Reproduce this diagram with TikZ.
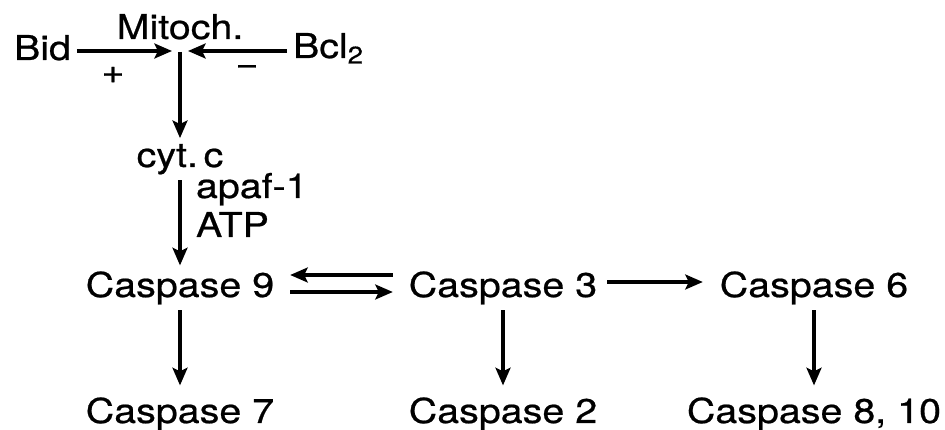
\documentclass[tikz,border=0pt]{standalone}
\usepackage{fontspec}
\setmainfont[FakeStretch=1.15,FakeBold=0.6]{TeX Gyre Heros}
\usetikzlibrary{calc,arrows.meta}

\begin{document}
\begin{tikzpicture}[
    >={Stealth[length=10pt,width=8.5pt,inset=2pt]},
    line width=1.8pt,
    every node/.style={font=\fontsize{19.5pt}{23pt}\selectfont, inner sep=0pt, outer sep=0.12cm}
  ]
    \useasboundingbox (0,0) rectangle (18.9,8.6);

    \coordinate (mL) at (3.44,7.58);
    \coordinate (mR) at (3.76,7.58);
    \coordinate (mB) at (3.60,7.56);

    \node[anchor=base west] (bid) at (0.16,7.40) {Bid};
    \node[anchor=base] (mito) at (3.60,7.82) {Mitoch.};
    \node[anchor=base west] (bcl) at (5.74,7.44) {Bcl\textsubscript{2}};
    \node (plus) at (2.26,7.10) {+};
    \node (minus) at (4.94,7.20) {−};

    \node[anchor=base] (cyt) at (3.60,5.26) {cyt.\,c};
    \node[anchor=base west] (apaf) at (3.80,4.64) {apaf-1};
    \node[anchor=base west] (atp) at (3.80,3.86) {ATP};

    \node[anchor=base] (c9) at (3.60,2.66) {Caspase 9};
    \node[anchor=base] (c3) at (10.06,2.66) {Caspase 3};
    \node[anchor=base] (c6) at (16.28,2.66) {Caspase 6};
    \node[anchor=base] (c7) at (3.60,0.14) {Caspase 7};
    \node[anchor=base] (c2) at (10.06,0.14) {Caspase 2};
    \node[anchor=base] (c810) at (16.28,0.14) {Caspase 8, 10};

    \draw[->] (bid.east |- mL) -- (mL);
    \draw[->] (bcl.west |- mR) -- (mR);
    \draw[->] (mB) -- (cyt.north);
    \draw[->] (cyt.south) -- (c9.north);

    \draw[->, shorten <=0.2cm, shorten >=0.2cm] ([yshift=0.44cm]c3.base west) -- ([yshift=0.44cm]c9.base east);
    \draw[->, shorten <=0.2cm, shorten >=0.2cm] ([yshift=0.10cm]c9.base east) -- ([yshift=0.10cm]c3.base west);
    \draw[->, shorten <=0.08cm, shorten >=0.22cm] ([yshift=0.30cm]c3.base east) -- ([yshift=0.30cm]c6.base west);

    \draw[->, shorten >=0.12cm] (c9.south) -- (c7.north);
    \draw[->, shorten >=0.12cm] (c3.south) -- (c2.north);
    \draw[->, shorten >=0.12cm] (c6.south) -- (c810.north);
\end{tikzpicture}
\end{document}
